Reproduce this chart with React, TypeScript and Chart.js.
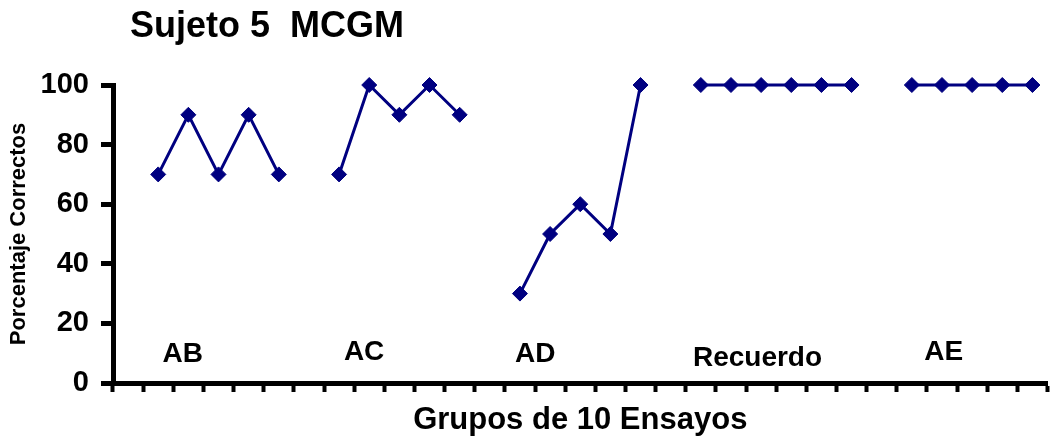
import React, { useEffect, useRef } from "react";
import { Chart, registerables } from "chart.js";

Chart.register(...registerables);

const chartTitle = "Sujeto 5  MCGM";
const xAxisTitle = "Grupos de 10 Ensayos";
const yAxisTitle = "Porcentaje Correctos";

const abValues = [70, 90, 70, 90, 70];
const acValues = [70, 100, 90, 100, 90];
const adValues = [30, 50, 60, 50, 100];
const recuerdoValues = [100, 100, 100, 100, 100, 100];
const aeValues = [100, 100, 100, 100, 100];

const yTicks = [0, 20, 40, 60, 80, 100];

const groupNames = ["AB", "AC", "AD", "Recuerdo", "AE"];
// label anchor positions in data units (category index, percent)
const groupLabelX = [1.81, 7.83, 13.51, 20.88, 27.06];
const groupLabelY = [9.7, 10.4, 9.7, 8.4, 10.4];

const groups = [abValues, acValues, adValues, recuerdoValues, aeValues];
const seriesValues: (number | null)[] = [];
groups.forEach((g) => {
  seriesValues.push(null);
  g.forEach((v) => seriesValues.push(v));
});
const categories = seriesValues.map((_, i) => String(i + 1));

const FONT = "'Liberation Sans', Arial, Helvetica, sans-serif";
const NAVY = "#000080";

const textPlugin = {
  id: "textPlugin",
  afterDraw(chart: any) {
    const ctx = chart.ctx;
    const xs = chart.scales.x;
    const ys = chart.scales.y;
    ctx.save();
    ctx.fillStyle = "#000";
    ctx.textBaseline = "middle";
    ctx.textAlign = "center";
    ctx.font = `bold 28px ${FONT}`;
    groupNames.forEach((name, i) => {
      ctx.fillText(name, xs.getPixelForValue(groupLabelX[i]), ys.getPixelForValue(groupLabelY[i]));
    });
    ctx.textAlign = "left";
    ctx.font = `bold 36px ${FONT}`;
    ctx.fillText(chartTitle, chart.chartArea.left + 17, 27);
    ctx.restore();
  },
};

export default function App() {
  const ref = useRef<HTMLCanvasElement>(null);
  useEffect(() => {
    if (!ref.current) return;
    const chart = new Chart(ref.current, {
      type: "line",
      data: {
        labels: categories,
        datasets: [
          {
            data: seriesValues,
            borderColor: NAVY,
            backgroundColor: NAVY,
            borderWidth: 3,
            pointStyle: "rectRot",
            pointRadius: 7.5,
            pointBackgroundColor: NAVY,
            pointBorderColor: NAVY,
            pointBorderWidth: 1,
            spanGaps: false,
            tension: 0,
            clip: false,
          },
        ],
      },
      options: {
        animation: false,
        responsive: true,
        maintainAspectRatio: false,
        layout: { padding: { top: 85, right: 6, left: 0, bottom: 0 } },
        plugins: {
          legend: { display: false },
          tooltip: { enabled: false },
          title: { display: false },
        },
        scales: {
          x: {
            type: "category",
            offset: true,
            grid: {
              display: true,
              offset: true,
              drawOnChartArea: false,
              drawTicks: true,
              tickLength: 9,
              tickWidth: 4,
              tickColor: "#000",
            },
            border: { display: true, color: "#000", width: 5 },
            ticks: { display: false },
            title: {
              display: true,
              text: xAxisTitle,
              color: "#000",
              font: { family: FONT, size: 31, weight: "bold" },
              padding: { top: 4, bottom: 0 },
            },
            afterFit(scale: any) {
              scale.height = 56;
            },
          },
          y: {
            min: 0,
            max: 100,
            afterBuildTicks(scale: any) {
              scale.ticks = yTicks.map((v) => ({ value: v }));
            },
            grid: {
              display: true,
              drawOnChartArea: false,
              drawTicks: true,
              tickLength: 12,
              tickWidth: 5,
              tickColor: "#000",
            },
            border: { display: true, color: "#000", width: 5 },
            ticks: {
              color: "#000",
              font: { family: FONT, size: 29, weight: "bold" },
              padding: 12,
            },
            title: {
              display: true,
              text: yAxisTitle,
              color: "#000",
              font: { family: FONT, size: 22, weight: "bold" },
              padding: { top: 6, bottom: 0 },
            },
            afterFit(scale: any) {
              scale.width = 113;
            },
          },
        },
      },
      plugins: [textPlugin],
    });
    return () => chart.destroy();
  }, []);
  return (
    <div style={{ position: "fixed", left: 0, top: 0, width: 1056, height: 439, background: "#fff" }}>
      <canvas ref={ref} />
    </div>
  );
}
